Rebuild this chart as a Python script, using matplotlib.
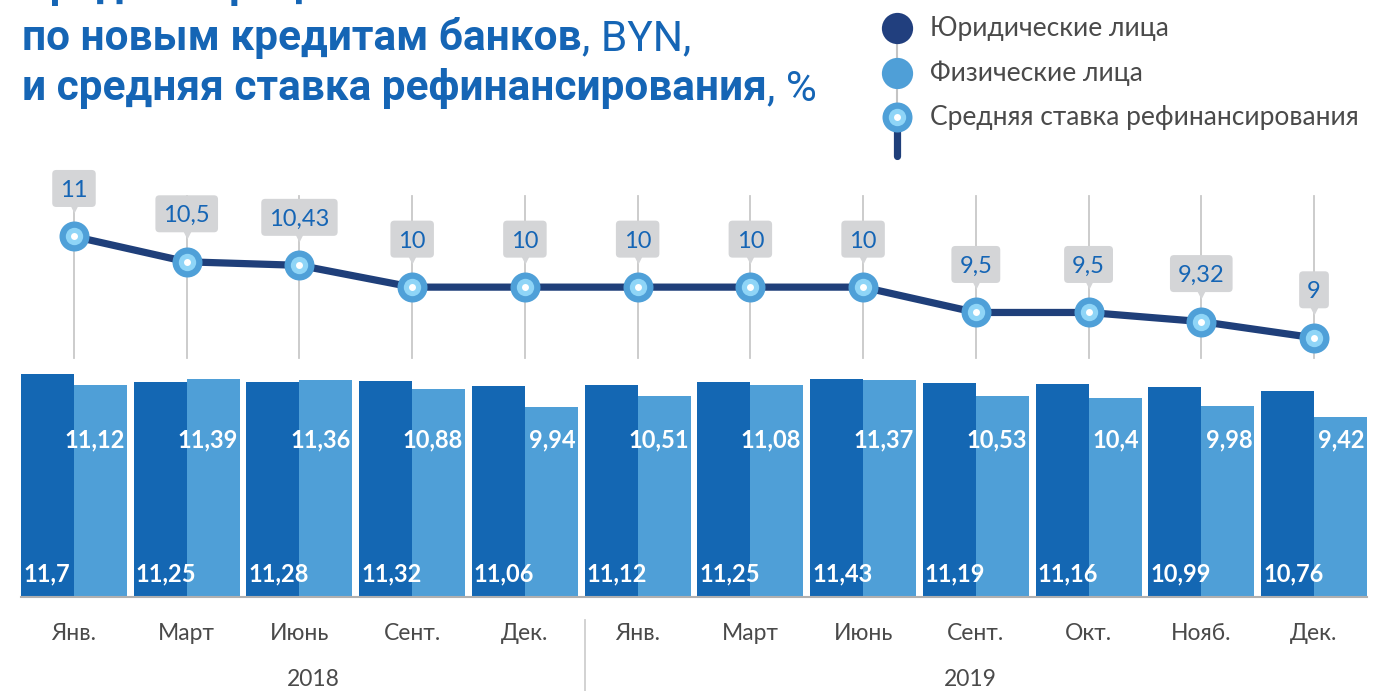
import matplotlib
matplotlib.use("Agg")
import matplotlib.pyplot as plt
import matplotlib.transforms as mtransforms
from matplotlib.patches import FancyBboxPatch
import numpy as np

# ---------------- data ----------------
months = ["Янв.", "Март", "Июнь", "Сент.", "Дек.", "Янв.", "Март", "Июнь",
          "Сент.", "Окт.", "Нояб.", "Дек."]
years = ["2018", "2019"]
legal = [11.7, 11.25, 11.28, 11.32, 11.06, 11.12, 11.25, 11.43, 11.19, 11.16, 10.99, 10.76]
individuals = [11.12, 11.39, 11.36, 10.88, 9.94, 10.51, 11.08, 11.37, 10.53, 10.4, 9.98, 9.42]
refi_rate = [11, 10.5, 10.43, 10, 10, 10, 10, 10, 9.5, 9.5, 9.32, 9]
series_names = ["Юридические лица", "Физические лица", "Средняя ставка рефинансирования"]
title_line1 = "Средние процентные ставки"
title_line2_bold = "по новым кредитам банков"
title_line2_reg = ", BYN,"
title_line3_bold = "и средняя ставка рефинансирования"
title_line3_reg = ", %"

def fmt(v):
    return ("%g" % v).replace(".", ",")

# ---------------- style ----------------
C_DARK = "#1467b3"
C_LIGHT = "#4f9fd7"
C_LINE = "#1f3f7a"
C_MK_OUT = "#4fa0d8"
C_MK_IN = "#8fd5f7"
C_TITLE = "#1565b5"
C_TEXT = "#4a4a4a"
C_GRID = "#c8c8c8"
C_BOX = "#d4d5d7"
FONT = "Lato"

W, H = 1374, 691
fig = plt.figure(figsize=(W / 100, H / 100), dpi=100)
fig.patch.set_facecolor("white")

def fx(px):
    return px / W

def fy(py):
    return 1 - py / H

n = len(months)
x = np.arange(n)
bw = 0.47
x_left_px, x_right_px = 21, 1367
xlim = (-bw, n - 1 + bw)

# ---------------- bars ----------------
base_px, top_px = 597, 360
px_per_unit_bar = 19.1
axb = fig.add_axes([fx(x_left_px), fy(base_px), fx(x_right_px - x_left_px),
                    (base_px - top_px) / H])
axb.set_xlim(*xlim)
axb.set_ylim(0, (base_px - top_px) / px_per_unit_bar)
axb.bar(x - bw / 2, legal, width=bw, color=C_DARK, linewidth=0)
axb.bar(x + bw / 2, individuals, width=bw, color=C_LIGHT, linewidth=0)
for s in ["top", "right", "left"]:
    axb.spines[s].set_visible(False)
axb.spines["bottom"].set_color("#b0b0b0")
axb.spines["bottom"].set_linewidth(1.5)
axb.set_yticks([])
axb.set_xticks(x)
axb.set_xticklabels(months, fontfamily=FONT, fontsize=16.5, color=C_TEXT)
axb.tick_params(axis="x", length=0, pad=19)

lab_dark_y = (base_px - 574) / px_per_unit_bar
lab_light_y = (base_px - 440) / px_per_unit_bar
off = 2 / 112.7
for i in range(n):
    axb.text(i - bw + off, lab_dark_y, fmt(legal[i]), color="white", fontsize=17,
             fontweight="bold", fontfamily=FONT, ha="left", va="center")
    axb.text(i + bw - off, lab_light_y, fmt(individuals[i]), color="white", fontsize=17,
             fontweight="bold", fontfamily=FONT, ha="right", va="center")

# ---------------- line ----------------
l_bot_px, l_top_px = 360, 150
ppu = 50.67
ref_v, ref_px = 9.9375, 290.3
y_lo = ref_v - (l_bot_px - ref_px) / ppu
y_hi = ref_v + (ref_px - l_top_px) / ppu
axl = fig.add_axes([fx(x_left_px), fy(l_bot_px), fx(x_right_px - x_left_px),
                    (l_bot_px - l_top_px) / H])
axl.set_xlim(*xlim)
axl.set_ylim(y_lo, y_hi)
axl.axis("off")
span = l_bot_px - l_top_px
for i in range(n):
    axl.axvline(i, ymin=(l_bot_px - 358) / span, ymax=(l_bot_px - 196) / span,
                color=C_GRID, lw=1.3, zorder=1)
axl.plot(x, refi_rate, color=C_LINE, lw=5.2, zorder=3, solid_capstyle="round")
axl.plot(x, refi_rate, "o", ms=21.6, mfc=C_MK_OUT, mec="none", zorder=4)
axl.plot(x, refi_rate, "o", ms=12.5, mfc=C_MK_IN, mec="none", zorder=5)
axl.plot(x, refi_rate, "o", ms=5, mfc="white", mec="none", zorder=6)

box_off = 48
label_texts = []
for i in range(n):
    tr_box = mtransforms.offset_copy(axl.transData, fig=fig, x=0, y=box_off, units="dots")
    tr_tri = mtransforms.offset_copy(axl.transData, fig=fig, x=0, y=box_off - 20, units="dots")
    axl.plot([i], [refi_rate[i]], marker="v", ms=6.5, mfc=C_BOX, mec="none",
             transform=tr_tri, zorder=6, clip_on=False)
    t = axl.text(i, refi_rate[i], fmt(refi_rate[i]), transform=tr_box, ha="center",
                 va="center_baseline", fontsize=17, fontfamily=FONT, color=C_TITLE,
                 zorder=8, clip_on=False)
    label_texts.append(t)

fig.canvas.draw()
r = fig.canvas.get_renderer()
for i, t in enumerate(label_texts):
    bb = t.get_window_extent(renderer=r)
    cx, cy = axl.transData.transform((i, refi_rate[i]))
    cy += box_off
    wbox = bb.width + 16
    hbox = 37
    p = FancyBboxPatch((cx - wbox / 2, cy - hbox / 2), wbox, hbox,
                       boxstyle="round,pad=0,rounding_size=4", fc=C_BOX, ec="none",
                       transform=mtransforms.IdentityTransform(), zorder=7, clip_on=False)
    axl.add_patch(p)

# ---------------- overlay: title, legend, years ----------------
axo = fig.add_axes([0, 0, 1, 1], zorder=10)
axo.set_xlim(0, W)
axo.set_ylim(H, 0)
axo.axis("off")
axo.patch.set_alpha(0)

axo.plot([585, 585], [620, 691], color="#cfcfcf", lw=1.3)
axo.text(313, 679, years[0], fontsize=16.5, fontfamily=FONT, color=C_TEXT, ha="center", va="center")
axo.text(970, 679, years[1], fontsize=16.5, fontfamily=FONT, color=C_TEXT, ha="center", va="center")

TFONT = "Roboto"
tsize = 30.5
fig.canvas.draw()
r = fig.canvas.get_renderer()

def title_line(y, bold, reg):
    t = axo.text(22, y, bold, fontsize=tsize, fontweight="bold", fontfamily=TFONT,
                 color=C_TITLE, ha="left", va="baseline")
    if reg:
        bb = t.get_window_extent(renderer=r)
        xr = axo.transData.inverted().transform((bb.x1, 0))[0]
        axo.text(xr, y, reg, fontsize=tsize, fontweight="normal", fontfamily=TFONT,
                 color=C_TITLE, ha="left", va="baseline")

title_line(-3, title_line1, "")
title_line(50, title_line2_bold, title_line2_reg)
title_line(100, title_line3_bold, title_line3_reg)

lx = 897
ly = [28, 73, 117]
axo.plot([lx, lx], [ly[0], ly[2]], color="#c4c4c4", lw=1.5, zorder=1)
axo.plot([lx, lx], [ly[2], 156], color=C_LINE, lw=5.2, solid_capstyle="round", zorder=1)
axo.plot([lx], [ly[0]], "o", ms=22.5, mfc="#213f7e", mec="none", zorder=2)
axo.plot([lx], [ly[1]], "o", ms=22.5, mfc=C_LIGHT, mec="none", zorder=2)
axo.plot([lx], [ly[2]], "o", ms=21.6, mfc=C_MK_OUT, mec="none", zorder=2)
axo.plot([lx], [ly[2]], "o", ms=12.5, mfc=C_MK_IN, mec="none", zorder=3)
axo.plot([lx], [ly[2]], "o", ms=5, mfc="white", mec="none", zorder=4)
for yy, name in zip(ly, series_names):
    axo.text(930, yy, name, fontsize=19, fontfamily=FONT, color=C_TEXT, ha="left", va="center")

fig.savefig("out.png", dpi=100, facecolor="white")
